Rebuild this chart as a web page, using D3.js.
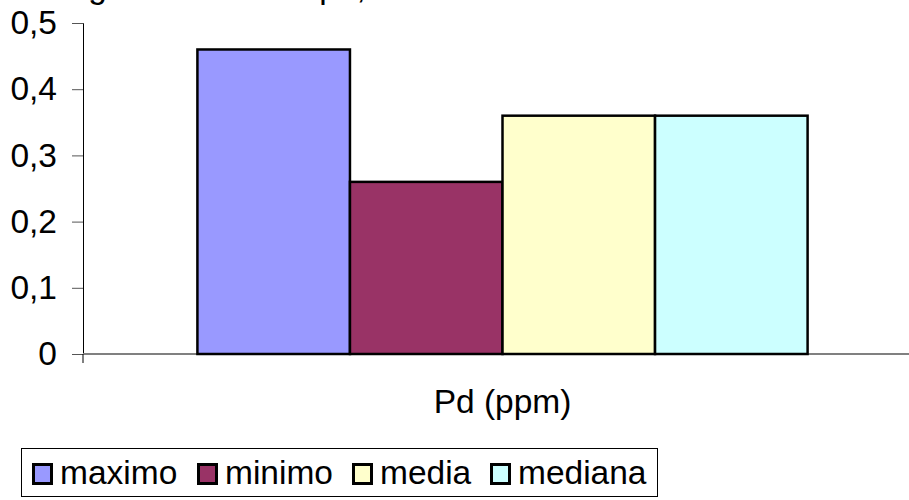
<!DOCTYPE html>
<html>
<head>
<meta charset="utf-8">
<script src="https://cdn.jsdelivr.net/npm/d3@7"></script>
<style>
  html, body { margin: 0; padding: 0; background: #fff; }
  svg { display: block; font-family: Arial, "Liberation Sans", sans-serif; }
</style>
</head>
<body>
<svg id="chart" width="909" height="500"></svg>
<script>
// Pd statistics (ppm)
const categories = ["Pd (ppm)"];
const seriesNames = ["maximo", "minimo", "media", "mediana"];
const seriesValues = [0.46, 0.26, 0.36, 0.36];
const seriesColors = ["#9999FF", "#993366", "#FFFFCC", "#CCFFFF"];
const yTicks = [0, 0.1, 0.2, 0.3, 0.4, 0.5];
const titleText = "Histograma del Cuerpo, total";

const FONT = "Arial, 'Liberation Sans', sans-serif";
const FS = 33.5;

const svg = d3.select("#chart");
const plot = { left: 83, right: 922, top: 23, bottom: 354 };

const y = d3.scaleLinear().domain([0, 0.5]).range([plot.bottom, plot.top]);

// One category band; bars take 4/(4+1.5) of it (gap width 150%)
const x0 = d3.scaleBand().domain(categories).range([plot.left, plot.right]);
const bandW = x0.bandwidth();
const barsW = bandW * 4 / 5.5;
const x1 = d3.scaleBand().domain(seriesNames)
  .range([x0(categories[0]) + (bandW - barsW) / 2, x0(categories[0]) + (bandW + barsW) / 2]);

// Title (sits mostly above the visible area)
svg.append("text")
  .attr("x", 12).attr("y", -2)
  .attr("font-size", FS).attr("fill", "#000")
  .text(titleText);

// Value axis
const yAxis = d3.axisLeft(y).tickValues(yTicks).tickSize(11).tickPadding(15)
  .tickFormat(d => d3.format(".1~f")(d).replace(".", ","));
const gy = svg.append("g").attr("transform", `translate(${plot.left},0)`).call(yAxis);
gy.select(".domain").attr("stroke", "#000").attr("stroke-width", 1);
gy.selectAll(".tick line").attr("stroke", "#555").attr("stroke-width", 1);
gy.selectAll(".tick text").attr("font-size", FS).attr("fill", "#000")
  .attr("font-family", FONT);

// Category axis: baseline and the boundary tick below it
svg.append("line")
  .attr("x1", plot.left).attr("x2", 909)
  .attr("y1", y(0)).attr("y2", y(0))
  .attr("stroke", "#808080").attr("stroke-width", 2);
svg.append("line")
  .attr("x1", plot.left).attr("x2", plot.left)
  .attr("y1", y(0)).attr("y2", y(0) + 9)
  .attr("stroke", "#000").attr("stroke-width", 1);

const xAxis = d3.axisBottom(x0).tickSize(0).tickPadding(0);
const gx = svg.append("g").attr("transform", `translate(0,${y(0)})`).call(xAxis);
gx.select(".domain").remove();
gx.selectAll(".tick text")
  .attr("font-size", FS).attr("fill", "#000")
  .attr("dy", null).attr("y", 59)
  .attr("font-family", FONT);

// Bars
svg.append("g").selectAll("rect")
  .data(seriesNames.map((n, i) => ({ name: n, value: seriesValues[i], color: seriesColors[i] })))
  .join("rect")
  .attr("x", d => x1(d.name))
  .attr("width", x1.bandwidth())
  .attr("y", d => y(d.value))
  .attr("height", d => y(0) - y(d.value))
  .attr("fill", d => d.color)
  .attr("stroke", "#000").attr("stroke-width", 2.5);

// Legend
const legend = svg.append("g");
legend.append("rect")
  .attr("x", 21.5).attr("y", 448.5).attr("width", 636).attr("height", 48)
  .attr("fill", "#fff").attr("stroke", "#000").attr("stroke-width", 1);
const legendX = [32, 197, 352, 490];
const items = legend.selectAll("g.item")
  .data(seriesNames.map((n, i) => ({ name: n, color: seriesColors[i], x: legendX[i] })))
  .join("g").attr("class", "item")
  .attr("transform", d => `translate(${d.x},0)`);
items.append("rect")
  .attr("x", 1.5).attr("y", 464.5).attr("width", 18).attr("height", 19)
  .attr("fill", d => d.color).attr("stroke", "#000").attr("stroke-width", 3);
items.append("text")
  .attr("x", 28).attr("y", 484)
  .attr("font-size", FS).attr("fill", "#000")
  .text(d => d.name);
</script>
</body>
</html>
